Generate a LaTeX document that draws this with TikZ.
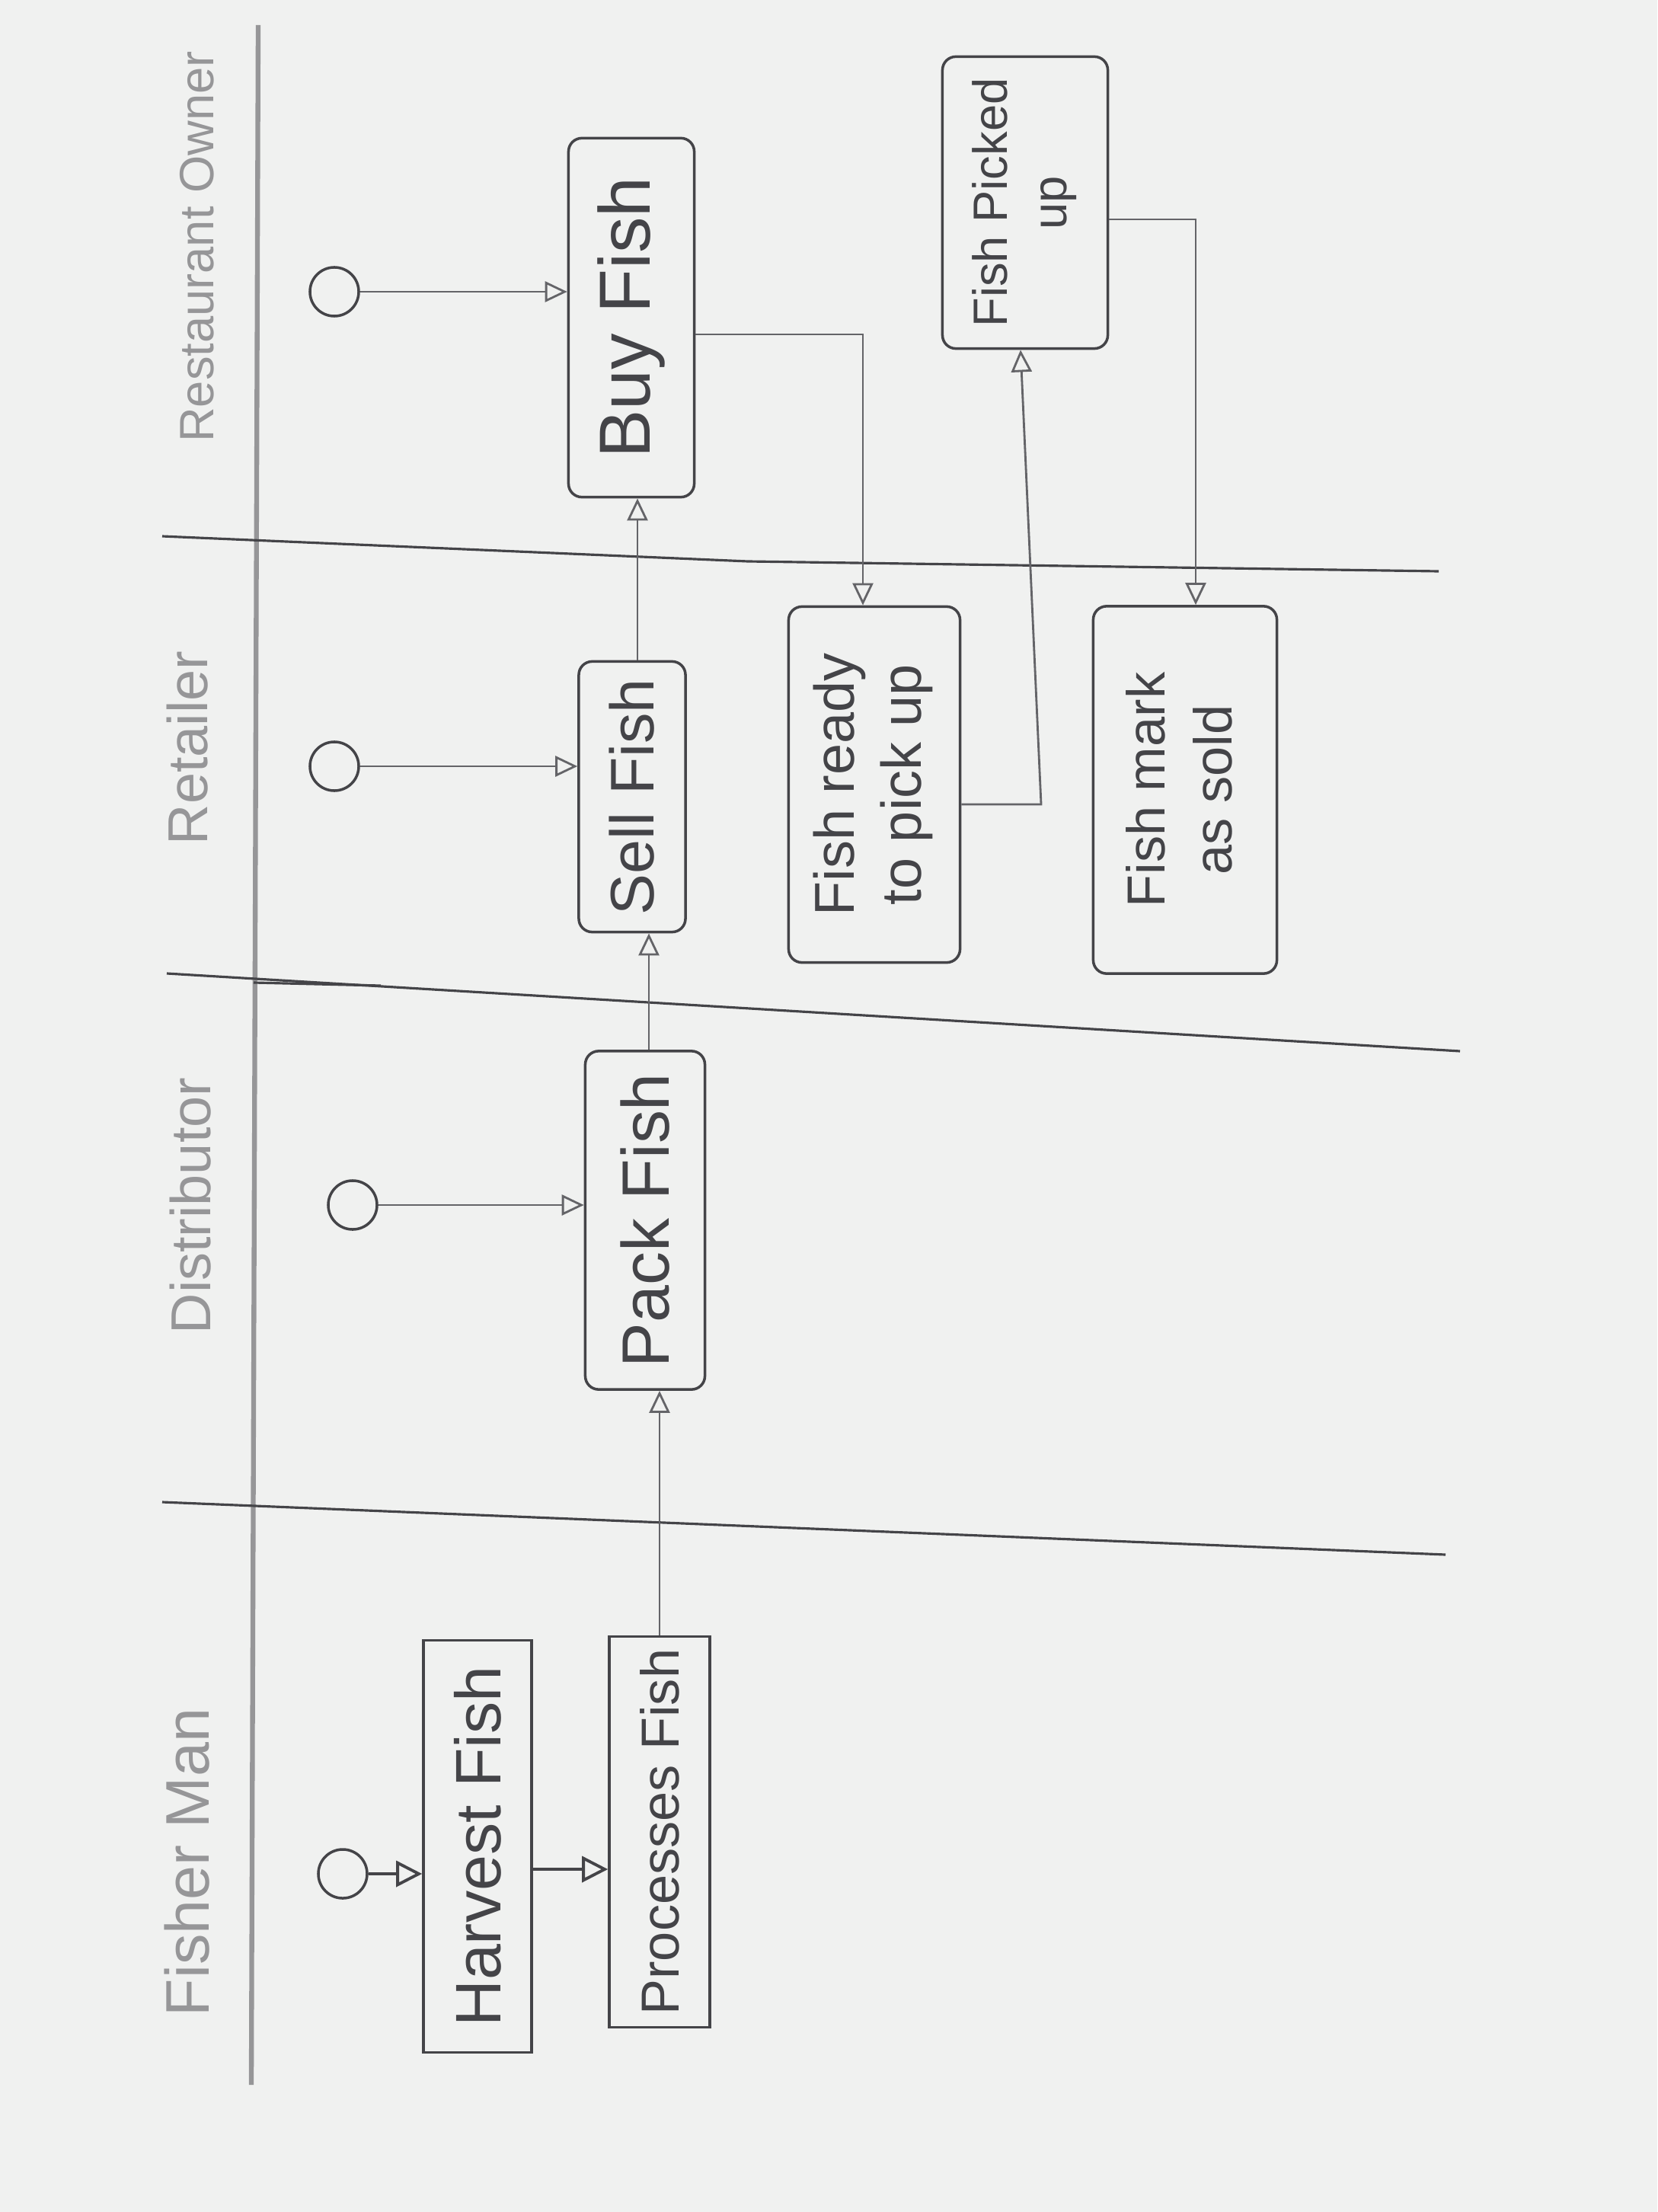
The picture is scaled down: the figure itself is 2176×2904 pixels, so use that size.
\documentclass[tikz,border=0pt]{standalone}
\usepackage{fontspec}
\setmainfont{Liberation Sans}
\usepackage{graphicx}
\usetikzlibrary{arrows.meta}
\definecolor{paper}{RGB}{240,241,240}
\definecolor{pen}{RGB}{68,68,72}
\definecolor{pencil}{RGB}{150,150,152}
\definecolor{wire}{RGB}{100,100,104}

\begin{document}
\begin{tikzpicture}[x=0.01cm,y=-0.01cm,
  activity/.style={draw=pen, line width=1pt, inner sep=0pt, align=center, text=pen},
  roundact/.style={activity, rounded corners=5pt},
  startnode/.style={draw=pen, line width=1pt, circle, minimum size=0.64cm, inner sep=0pt},
  flow/.style={draw=wire, line width=0.8pt, -{Triangle[open, length=0.29cm, width=0.27cm, line width=0.8pt]}},
  bigflow/.style={draw=pen, line width=1pt, -{Triangle[open, length=0.34cm, width=0.34cm, line width=1.1pt]}},
  lanelabel/.style={text=pencil, inner sep=0pt},
  separator/.style={draw=pen, line width=0.9pt},
]
% paper
\fill[paper] (0,0) rectangle (2176,2904);
\useasboundingbox (0,0) rectangle (2176,2904);

% header rule and lane titles
\draw[pencil, line width=1.8pt] (339,33) -- (330,2737);
\node[lanelabel, font=\fontsize{23}{27}\selectfont] (lfisher) at (246,2445) {\rotatebox{90}{Fisher Man}};
\node[lanelabel, font=\fontsize{21}{25}\selectfont] (ldist) at (250,1583) {\rotatebox{90}{Distributor}};
\node[lanelabel, font=\fontsize{21}{25}\selectfont] (lretail) at (246,982) {\rotatebox{90}{Retailer}};
\node[lanelabel, font=\fontsize{18}{22}\selectfont] (lrest) at (259,324) {\rotatebox{90}{Restaurant Owner}};

% lane separators
\draw[separator] (213,1972) -- (1898,2041);
\draw[separator] (219,1278) -- (1917,1380);
\draw[separator] (333,1290) -- (500,1294);
\draw[separator] (213,704) -- (982,737) -- (1889,750);

% start points
\node[startnode] (c1) at (450,2460) {};
\node[startnode] (c2) at (463,1582) {};
\node[startnode] (c3) at (439,1006) {};
\node[startnode] (c4) at (439,383) {};

% activities
\node[activity, minimum width=1.42cm, minimum height=5.41cm, font=\fontsize{24}{28}\selectfont]
  (harvest) at (627,2424) {\rotatebox{90}{Harvest Fish}};
\node[activity, minimum width=1.32cm, minimum height=5.13cm, font=\fontsize{20}{24}\selectfont]
  (processes) at (866,2405) {\rotatebox{90}{Processes Fish}};
\node[roundact, minimum width=1.57cm, minimum height=4.44cm, font=\fontsize{25}{29}\selectfont]
  (pack) at (847,1602) {\rotatebox{90}{Pack Fish}};
\node[roundact, minimum width=1.40cm, minimum height=3.55cm, font=\fontsize{23}{27}\selectfont]
  (sell) at (830,1046) {\rotatebox{90}{Sell Fish}};
\node[roundact, minimum width=1.65cm, minimum height=4.71cm, font=\fontsize{27}{31}\selectfont]
  (buy) at (829,417) {\rotatebox{90}{Buy Fish}};
\node[roundact, minimum width=2.25cm, minimum height=4.67cm, font=\fontsize{21}{25}\selectfont]
  (ready) at (1148,1030) {\rotatebox{90}{\begin{tabular}{@{}c@{}}Fish ready\\to pick up\end{tabular}}};
\node[roundact, minimum width=2.17cm, minimum height=3.83cm, font=\fontsize{18}{22}\selectfont]
  (picked) at (1346,266) {\rotatebox{90}{\begin{tabular}{@{}c@{}}Fish Picked\\up\end{tabular}}};
\node[roundact, minimum width=2.41cm, minimum height=4.82cm, font=\fontsize{20}{25}\selectfont]
  (sold) at (1556,1037) {\rotatebox{90}{\begin{tabular}{@{}c@{}}Fish mark\\as sold\end{tabular}}};

% fisher man flow
\draw[bigflow] (c1) -- (c1 -| harvest.west);
\coordinate (hp) at ([yshift=-0.3cm]harvest.east);
\draw[bigflow] (hp) -- (hp -| processes.west);

% hand-offs between lanes
\draw[flow] (processes.north) -- (processes.north |- pack.south);
\coordinate (ps) at ([xshift=0.05cm]pack.north);
\draw[flow] (ps) -- (ps |- sell.south);
\coordinate (sb) at ([xshift=0.07cm]sell.north);
\draw[flow] (sb) -- (sb |- buy.south);

% lane starts
\draw[flow] (c2) -- (c2 -| pack.west);
\draw[flow] (c3) -- (c3 -| sell.west);
\draw[flow] (c4) -- (c4 -| buy.west);

% pick-up loop
\coordinate (bend1) at (1133,439);
\draw[flow] (buy.east |- bend1) -- (bend1) -- (bend1 |- ready.north);
\coordinate (bend2) at (1367,1056);
\coordinate (rise2) at (1340,457);
\draw[flow] (ready.east |- bend2) -- (bend2) -- (rise2 |- picked.south);
\coordinate (bend3) at (1570,288);
\draw[flow] (picked.east |- bend3) -- (bend3) -- (bend3 |- sold.north);
\end{tikzpicture}
\end{document}
